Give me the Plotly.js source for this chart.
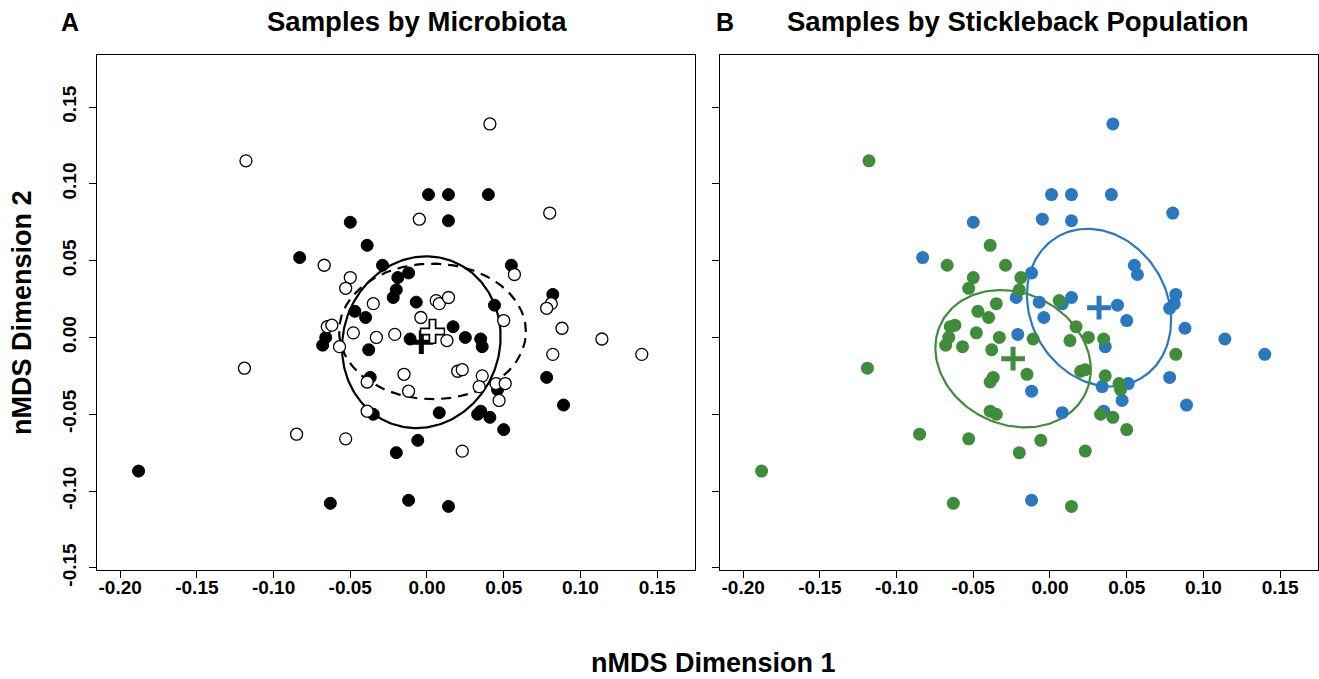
<!DOCTYPE html>
<html><head><meta charset="utf-8">
<script src="https://cdn.plot.ly/plotly-3.0.1.min.js"></script>
<style>html,body{margin:0;padding:0;background:#fff}#plot{width:1319px;height:679px}</style>
</head><body><div id="plot"></div>
<script>
// nMDS coordinates of each sample
const nmds1 = [-0.118,0.041,-0.188,-0.119,0.001,0.014,0.040,-0.005,0.014,-0.050,
  0.080,-0.083,-0.039,-0.067,-0.050,-0.053,-0.029,-0.019,-0.012,-0.020,
  -0.022,-0.007,-0.035,-0.047,-0.040,-0.004,-0.065,-0.062,-0.066,-0.068,
  -0.048,-0.033,-0.021,-0.011,-0.057,-0.038,-0.015,-0.037,-0.039,-0.012,
  -0.039,-0.035,-0.085,-0.053,-0.006,-0.020,-0.063,-0.012,0.014,0.055,
  0.057,0.082,0.081,0.078,0.044,0.050,0.088,0.006,0.008,0.014,
  0.017,0.025,0.035,0.036,0.013,0.082,0.020,0.023,0.036,0.034,
  0.045,0.051,0.046,0.047,0.078,0.089,0.008,0.035,0.033,0.041,
  0.050,0.023,0.114,0.140];
const nmds2 = [0.115,0.139,-0.087,-0.020,0.093,0.093,0.093,0.077,0.076,0.075,
  0.081,0.052,0.060,0.047,0.039,0.032,0.047,0.039,0.042,0.031,
  0.026,0.023,0.022,0.017,0.013,0.013,0.007,0.008,0.000,-0.005,
  0.003,0.000,0.002,-0.001,-0.006,-0.008,-0.024,-0.026,-0.029,-0.035,
  -0.048,-0.050,-0.063,-0.066,-0.067,-0.075,-0.108,-0.106,-0.110,0.047,
  0.041,0.028,0.022,0.019,0.021,0.011,0.006,0.024,0.022,0.026,
  0.007,0.000,-0.001,-0.006,-0.002,-0.011,-0.022,-0.021,-0.025,-0.032,
  -0.030,-0.030,-0.034,-0.041,-0.026,-0.044,-0.049,-0.048,-0.050,-0.052,
  -0.060,-0.074,-0.001,-0.011];
// microbiota group: M1 (filled) / M2 (open)
const microbiota = ['M2','M2','M1','M2','M1','M1','M1','M2','M1','M1',
  'M2','M1','M1','M2','M2','M2','M1','M1','M1','M1',
  'M1','M1','M2','M1','M1','M2','M2','M2','M1','M1',
  'M2','M2','M2','M1','M2','M1','M2','M1','M2','M2',
  'M2','M1','M2','M2','M1','M1','M1','M1','M1','M1',
  'M2','M1','M2','M2','M1','M2','M2','M2','M2','M2',
  'M1','M1','M1','M1','M2','M2','M2','M2','M2','M2',
  'M2','M2','M1','M2','M1','M1','M1','M1','M1','M1',
  'M1','M2','M2','M2'];
// stickleback population: P1 (blue) / P2 (green)
const population = ['P2','P1','P2','P2','P1','P1','P1','P1','P1','P1',
  'P1','P1','P2','P2','P2','P2','P2','P2','P1','P2',
  'P1','P1','P2','P2','P2','P1','P2','P2','P2','P2',
  'P2','P2','P1','P2','P2','P2','P2','P2','P2','P1',
  'P2','P2','P2','P2','P2','P2','P2','P1','P2','P1',
  'P1','P1','P1','P1','P1','P1','P1','P2','P1','P1',
  'P2','P2','P2','P1','P2','P2','P2','P2','P2','P1',
  'P2','P1','P2','P1','P1','P1','P1','P1','P2','P2',
  'P2','P2','P1','P1'];
const xTicks = [-0.20,-0.15,-0.10,-0.05,0.00,0.05,0.10,0.15];
const xTickLabels = ['-0.20','-0.15','-0.10','-0.05','0.00','0.05','0.10','0.15'];
const yTicks = [-0.15,-0.10,-0.05,0.00,0.05,0.10,0.15];
const yTickLabels = ['-0.15','-0.10','-0.05','0.00','0.05','0.10','0.15'];

const BLUE = '#2A78BF', GREEN = '#3F8D3B';
const FONT = 'Liberation Sans, Arial, Helvetica, sans-serif';

function pick(arr, key, val){ return arr.filter((_, i) => key[i] === val); }
function mean(a){ return a.reduce((s, v) => s + v, 0) / a.length; }
function sdEllipse(xs, ys){
  const n = xs.length, mx = mean(xs), my = mean(ys);
  let sxx = 0, syy = 0, sxy = 0;
  for (let i = 0; i < n; i++){ const dx = xs[i]-mx, dy = ys[i]-my; sxx += dx*dx; syy += dy*dy; sxy += dx*dy; }
  sxx /= (n-1); syy /= (n-1); sxy /= (n-1);
  const tr = sxx + syy, det = sxx*syy - sxy*sxy;
  const disc = Math.sqrt(Math.max(tr*tr/4 - det, 0));
  const l1 = tr/2 + disc, l2 = tr/2 - disc;
  let vx = l1 - syy, vy = sxy;
  const nv = Math.hypot(vx, vy) || 1; vx /= nv; vy /= nv;
  const ex = [], ey = [];
  for (let k = 0; k <= 200; k++){
    const t = 2*Math.PI*k/200, a = Math.sqrt(l1)*Math.cos(t), b = Math.sqrt(Math.max(l2,0))*Math.sin(t);
    ex.push(mx + a*vx - b*vy); ey.push(my + a*vy + b*vx);
  }
  return {ex, ey, mx, my};
}

const traces = [];
function panel(key, groups, xa, ya){
  groups.forEach(g => {
    const xs = pick(nmds1, key, g.val), ys = pick(nmds2, key, g.val);
    const e = sdEllipse(xs, ys);
    g.e = e;
    traces.push({x: e.ex, y: e.ey, xaxis: xa, yaxis: ya, mode: 'lines', hoverinfo: 'skip',
      line: {color: g.lineColor, width: g.lineWidth, dash: g.dash || 'solid'}, showlegend: false});
  });
  groups.forEach(g => {
    traces.push({x: pick(nmds1, key, g.val), y: pick(nmds2, key, g.val), xaxis: xa, yaxis: ya,
      mode: 'markers', name: g.val, showlegend: false,
      marker: {symbol: 'circle', size: g.size, color: g.fill, line: {color: g.edge, width: g.edgeWidth}}});
  });
  groups.forEach(g => {
    if (g.crossOutline){
      traces.push({x: [g.e.mx], y: [g.e.my], xaxis: xa, yaxis: ya, mode: 'markers', hoverinfo: 'skip', showlegend: false,
        marker: {symbol: 'cross-thin', size: 18, line: {color: g.crossOutline, width: 8}}});
    }
    traces.push({x: [g.e.mx], y: [g.e.my], xaxis: xa, yaxis: ya, mode: 'markers', hoverinfo: 'skip', showlegend: false,
      marker: {symbol: 'cross-thin', size: g.crossOutline ? 16 : 17, line: {color: g.crossColor, width: g.crossOutline ? 4.5 : 5}}});
  });
}

panel(microbiota, [
  {val: 'M1', fill: '#000', edge: '#000', edgeWidth: 1, size: 12, lineColor: '#000', lineWidth: 2.2, crossColor: '#000'},
  {val: 'M2', fill: '#fff', edge: '#000', edgeWidth: 1.3, size: 12, lineColor: '#000', lineWidth: 2.2, dash: '10px,7px', crossColor: '#fff', crossOutline: '#000'}
], 'x', 'y');
panel(population, [
  {val: 'P1', fill: BLUE, edge: BLUE, edgeWidth: 0, size: 13, lineColor: BLUE, lineWidth: 2.2, crossColor: BLUE},
  {val: 'P2', fill: GREEN, edge: GREEN, edgeWidth: 0, size: 13, lineColor: GREEN, lineWidth: 2.2, crossColor: GREEN}
], 'x2', 'y2');

const W = 1319, H = 679;
const yDom = [1 - 570/H, 1 - 55/H];
const tickFont = {family: FONT, size: 19, color: '#000', weight: 700};
function xax(dom){
  return {domain: dom, range: [-0.2151, 0.1747], tickvals: xTicks, ticktext: xTickLabels, ticks: 'outside', ticklen: 7,
    tickwidth: 1, tickcolor: '#000', showline: true, mirror: true, linecolor: '#000', linewidth: 1,
    showgrid: false, zeroline: false, tickfont: tickFont, ticklabelstandoff: -7, fixedrange: true};
}
function yax(dom, anchor, labels){
  return {domain: dom, anchor: anchor, range: [-0.1514, 0.1839], tickvals: yTicks, ticktext: yTickLabels, ticks: 'outside', ticklen: 7,
    tickwidth: 1, tickcolor: '#000', showline: true, mirror: true, linecolor: '#000', linewidth: 1,
    showgrid: false, zeroline: false, tickfont: tickFont, tickangle: -90, ticklabelstandoff: 5, showticklabels: labels, fixedrange: true};
}
const xa1 = xax([97/W, 695/W]); xa1.anchor = 'y';
const xa2 = xax([720/W, 1318/W]); xa2.anchor = 'y2';

const annFont = (s) => ({family: FONT, size: s, color: '#000', weight: 700});
const layout = {
  width: W, height: H, margin: {l: 0, r: 0, t: 0, b: 0}, paper_bgcolor: '#fff', plot_bgcolor: '#fff',
  showlegend: false,
  xaxis: xa1, yaxis: yax(yDom, 'x', true),
  xaxis2: xa2, yaxis2: yax(yDom, 'x2', false),
  annotations: [
    {text: 'Samples by Microbiota', xref: 'paper', yref: 'paper', x: 417/W, y: 1 - 22/H, xanchor: 'center', yanchor: 'middle', showarrow: false, font: annFont(27.5)},
    {text: 'Samples by Stickleback Population', xref: 'paper', yref: 'paper', x: 1018/W, y: 1 - 22/H, xanchor: 'center', yanchor: 'middle', showarrow: false, font: annFont(27.5)},
    {text: 'A', xref: 'paper', yref: 'paper', x: 70/W, y: 1 - 22/H, xanchor: 'center', yanchor: 'middle', showarrow: false, font: annFont(25)},
    {text: 'B', xref: 'paper', yref: 'paper', x: 725/W, y: 1 - 22/H, xanchor: 'center', yanchor: 'middle', showarrow: false, font: annFont(25)},
    {text: 'nMDS Dimension 1', xref: 'paper', yref: 'paper', x: 713/W, y: 1 - 663/H, xanchor: 'center', yanchor: 'middle', showarrow: false, font: annFont(27)},
    {text: 'nMDS Dimension 2', xref: 'paper', yref: 'paper', x: 22/W, y: 1 - 313/H, xanchor: 'center', yanchor: 'middle', textangle: -90, showarrow: false, font: annFont(27)}
  ]
};
Plotly.newPlot('plot', traces, layout, {staticPlot: true, displayModeBar: false});
</script>
</body></html>
